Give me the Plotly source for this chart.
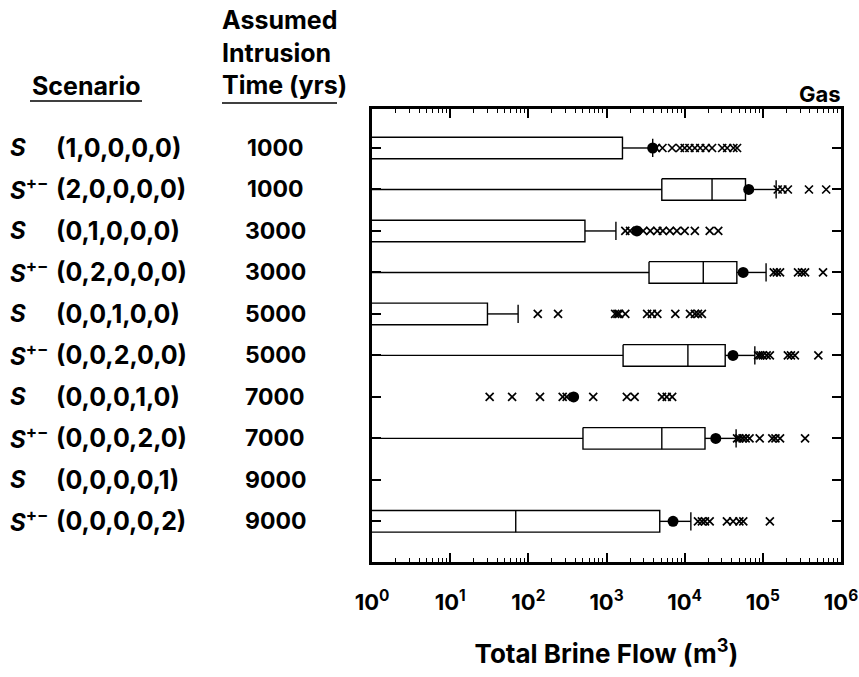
import plotly.graph_objects as go

# Scenario rows (top to bottom)
scenario_kind = ["S", "S+-", "S", "S+-", "S", "S+-", "S", "S+-", "S", "S+-"]
scenario_sets = ["(1,0,0,0,0)", "(2,0,0,0,0)", "(0,1,0,0,0)", "(0,2,0,0,0)", "(0,0,1,0,0)",
                 "(0,0,2,0,0)", "(0,0,0,1,0)", "(0,0,0,2,0)", "(0,0,0,0,1)", "(0,0,0,0,2)"]
intrusion_time = [1000, 1000, 3000, 3000, 5000, 5000, 7000, 7000, 9000, 9000]

# Box statistics of total brine flow (m^3); 0 = below plotted range, None = no box
whisker_lo = [0, 0, 0, 0, 0, 0, None, 0, None, 0]
q1 = [0, 5100, 0, 3500, 0, 1630, None, 500, None, 0]
median = [0, 22400, 0, 17300, 0, 11000, None, 5100, None, 69]
q3 = [1600, 60000, 530, 46500, 30, 33000, None, 18200, None, 4800]
whisker_hi = [3900, 148000, 1320, 110000, 74, 79000, None, 45500, None, 12000]
mean_flow = [3900, 66000, 2450, 56000, None, 41500, 380, 25000, None, 7100]

# Individual high values beyond the whiskers
outliers = [
    [4300, 5200, 6900, 8700, 10000, 11500, 13500, 15800, 18600, 22400, 30200, 35000, 42000, 46800],
    [155000, 178000, 209000, 389000, 646000],
    [1740, 2000, 2950, 3630, 4470, 5250, 6460, 7940, 10000, 13500, 20900, 26900],
    [138000, 151000, 166000, 282000, 316000, 347000, 589000],
    [132, 240, 1290, 1380, 1450, 1740, 3310, 3800, 4470, 7590, 11700, 13500, 14800, 16600],
    [87000, 93000, 100000, 112000, 123000, 209000, 229000, 257000, 513000],
    [32, 62, 141, 275, 309, 676, 1820, 2290, 5130, 5890, 6920],
    [46800, 50100, 55000, 60300, 67600, 91200, 132000, 145000, 166000, 347000],
    [],
    [14800, 16600, 18200, 20900, 34700, 41700, 50100, 56200, 123000],
]

x_tickvals = [1, 10, 100, 1000, 10000, 100000, 1000000]
x_ticktext = ["10<sup>0</sup>", "10<sup>1</sup>", "10<sup>2</sup>", "10<sup>3</sup>",
              "10<sup>4</sup>", "10<sup>5</sup>", "10<sup>6</sup>"]

FLOOR = 0.1  # zero values sit off the left edge of the log axis
HALF_BOX = 0.26
HALF_CAP = 0.22
FONT = "Inter, Liberation Sans, Arial, sans-serif"
W, H = 859, 677
ML, MR, MT, MB = 372, 18, 109, 115


def pos(v):
    return FLOOR if v == 0 else v


box_x, box_y, line_x, line_y = [], [], [], []
dot_x, dot_y, out_x, out_y = [], [], [], []
for i in range(len(scenario_sets)):
    if q3[i] is not None:
        a, b = pos(q1[i]), q3[i]
        box_x += [a, b, b, a, a, None]
        box_y += [i - HALF_BOX, i - HALF_BOX, i + HALF_BOX, i + HALF_BOX, i - HALF_BOX, None]
        m = pos(median[i])
        line_x += [m, m, None]
        line_y += [i - HALF_BOX, i + HALF_BOX, None]
        # lower whisker
        if whisker_lo[i] is not None and q1[i] != 0:
            line_x += [pos(whisker_lo[i]), q1[i], None]
            line_y += [i, i, None]
        # upper whisker and cap
        line_x += [q3[i], whisker_hi[i], None, whisker_hi[i], whisker_hi[i], None]
        line_y += [i, i, None, i - HALF_CAP, i + HALF_CAP, None]
    if mean_flow[i] is not None:
        dot_x.append(mean_flow[i])
        dot_y.append(i)
    out_x += outliers[i]
    out_y += [i] * len(outliers[i])

fig = go.Figure()
fig.add_trace(go.Scatter(x=box_x, y=box_y, mode="lines", fill="toself", fillcolor="white",
                         line=dict(color="black", width=1.4), hoverinfo="skip"))
fig.add_trace(go.Scatter(x=line_x, y=line_y, mode="lines",
                         line=dict(color="black", width=1.4), hoverinfo="skip"))
fig.add_trace(go.Scatter(x=out_x, y=out_y, mode="markers",
                         marker=dict(symbol="x-thin", size=8, line=dict(color="black", width=1.7))))
fig.add_trace(go.Scatter(x=dot_x, y=dot_y, mode="markers",
                         marker=dict(symbol="circle", size=11, color="black")))

fig.update_layout(
    width=W, height=H,
    margin=dict(l=ML, r=MR, t=MT, b=MB),
    paper_bgcolor="white", plot_bgcolor="white",
    showlegend=False,
    font=dict(family=FONT, color="black", size=22),
    xaxis=dict(
        type="log", range=[0, 6], automargin=False,
        tickvals=x_tickvals, ticktext=["<b>" + t + "</b>" for t in x_ticktext],
        ticks="inside", ticklen=9, tickwidth=1.5, tickcolor="black",
        minor=dict(ticks="inside", ticklen=4, tickwidth=1, tickcolor="black", dtick="D1"),
        showline=True, linewidth=2.5, linecolor="black", mirror="ticks",
        showgrid=False, zeroline=False,
        tickfont=dict(size=22), ticklabelstandoff=19,
        title=dict(text="<b>Total Brine Flow (m<sup>3</sup>)</b>", font=dict(size=26), standoff=31),
    ),
    yaxis=dict(
        range=[9.98, -0.94], tickvals=list(range(10)), showticklabels=False, automargin=False,
        ticks="inside", ticklen=9, tickwidth=1.5, tickcolor="black",
        showline=True, linewidth=2.5, linecolor="black", mirror="ticks",
        showgrid=False, zeroline=False,
    ),
)

plot_w = W - ML - MR
plot_h = H - MT - MB


def px(x):
    return (x - ML) / plot_w


def py(y):
    return (H - MB - y) / plot_h


annotations = []
for i in range(len(scenario_sets)):
    sym = "<b><i>S</i></b>" + ("<b><sup>+−</sup></b>" if scenario_kind[i] == "S+-" else "")
    annotations.append(dict(x=px(8), y=i, xref="paper", yref="y", text=sym, showarrow=False,
                            xanchor="left", yanchor="middle", font=dict(size=24)))
    annotations.append(dict(x=px(54), y=i, xref="paper", yref="y", text="<b>" + scenario_sets[i] + "</b>",
                            showarrow=False, xanchor="left", yanchor="middle", font=dict(size=25)))
    annotations.append(dict(x=px(275), y=i, xref="paper", yref="y", text="<b>%d</b>" % intrusion_time[i],
                            showarrow=False, xanchor="center", yanchor="middle", font=dict(size=23)))

annotations += [
    dict(x=px(86), y=py(86), xref="paper", yref="paper", text="<b>Scenario</b>", showarrow=False,
         xanchor="center", yanchor="middle", font=dict(size=25)),
    dict(x=px(284), y=py(52), xref="paper", yref="paper",
         text="<b>Assumed<br>Intrusion<br>Time (yrs)</b>", showarrow=False,
         xanchor="center", yanchor="middle", align="left", font=dict(size=25)),
    dict(x=px(843), y=py(94), xref="paper", yref="paper", text="<b>Gas</b>", showarrow=False,
         xanchor="right", yanchor="middle", font=dict(size=22)),
]
fig.update_layout(annotations=annotations)

fig.add_shape(type="line", xref="paper", yref="paper", x0=px(30), x1=px(142), y0=py(101), y1=py(101),
              line=dict(color="black", width=1.5))
fig.add_shape(type="line", xref="paper", yref="paper", x0=px(222), x1=px(337), y0=py(103), y1=py(103),
              line=dict(color="black", width=1.5))

fig.write_html("out.html")
